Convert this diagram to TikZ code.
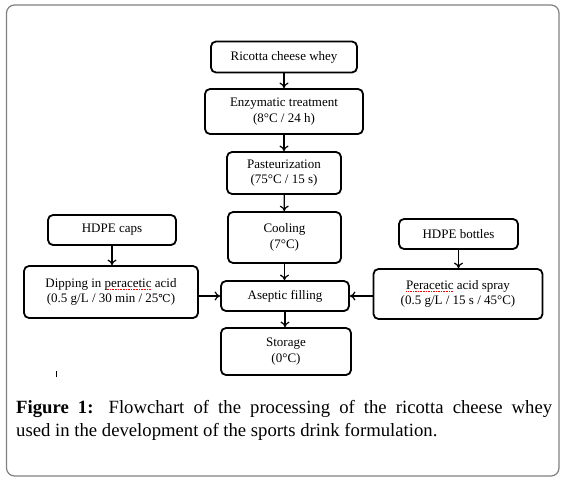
\documentclass[tikz,border=0pt]{standalone}
\usepackage{fontspec}
\setmainfont{Liberation Serif}
\newfontfamily\dejavu{DejaVu Serif}
\usetikzlibrary{arrows.meta}
\newlength\spellw
\newcommand\spellchk[1]{\settowidth\spellw{#1}\rlap{\color{red}\raisebox{-2.6pt}{\hbox to\spellw{\xleaders\hbox to 1.6pt{\hss\rule{0.9pt}{0.6pt}\hss}\hfill}}}#1}
\newcommand\degc{{\dejavu\fontsize{11}{13}\selectfont ℃}}
\tikzset{
  stepbox/.style={draw=black,line width=1.8pt,rounded corners=5pt,align=center,inner sep=0pt,
    font=\fontsize{13}{15.7}\selectfont},
  flow/.style={line width=1.2pt,-{To[length=5.5pt,width=9pt,line width=1.2pt]}},
}
\begin{document}
\begin{tikzpicture}[x=1pt,y=-1pt]
\useasboundingbox (0,0) rectangle (564,481);
\draw[draw=black!50,line width=1.2pt,rounded corners=8pt] (6.5,5) rectangle (559,476);
\node[stepbox,minimum width=146pt,minimum height=31pt] (ric) at (284,57) {Ricotta cheese whey};
\node[stepbox,minimum width=158pt,minimum height=45pt] (enz) at (284,111.5) {Enzymatic treatment\\(8°C / 24 h)};
\node[stepbox,minimum width=114pt,minimum height=42pt] (pas) at (284,173) {Pasteurization\\(75°C / 15 s)};
\node[stepbox,minimum width=113pt,minimum height=51pt] (coo) at (284.5,237.5) {Cooling\\(7°C)};
\node[stepbox,minimum width=128pt,minimum height=30pt] (cap) at (112,230) {HDPE caps};
\node[stepbox,minimum width=119pt,minimum height=30pt] (bot) at (458.5,234) {HDPE bottles};
\node[stepbox,minimum width=174pt,minimum height=52pt] (dip) at (111,292) {Dipping in \spellchk{peracetic} acid\\(0.5 g/L / 30 min / 25\degc)};
\node[stepbox,minimum width=128pt,minimum height=30pt] (ase) at (285,296) {Aseptic filling};
\node[stepbox,minimum width=169pt,minimum height=50pt] (per) at (458,294) {\spellchk{Peracetic} acid spray\\(0.5 g/L / 15 s / 45°C)};
\node[stepbox,minimum width=130pt,minimum height=47pt] (sto) at (286,351.5) {Storage\\(0°C)};
\draw[flow] (ric) -- (enz);
\draw[flow] (enz) -- (pas);
\draw[flow] (pas) -- (coo);
\draw[flow] (coo.south) -- (coo.south |- ase.north);
\draw[flow] (ase.south) -- (ase.south |- sto.north);
\draw[flow] (cap) -- (cap |- dip.north);
\draw[flow] (bot) -- (bot |- per.north);
\draw[flow] (dip.east |- ase.west) -- (ase.west);
\draw[flow] (per.west |- ase.east) -- (ase.east);
\draw[line width=0.8pt] (56,371) -- (56,377);
\node[anchor=north west,inner sep=0pt,text width=536pt,align=justify,
  font=\fontsize{18.7}{23}\selectfont] (cap1) at (16,400)
  {\textbf{Figure 1:} Flowchart of the processing of the ricotta cheese whey\linebreak used in the development of the sports drink formulation.};
\end{tikzpicture}
\end{document}
